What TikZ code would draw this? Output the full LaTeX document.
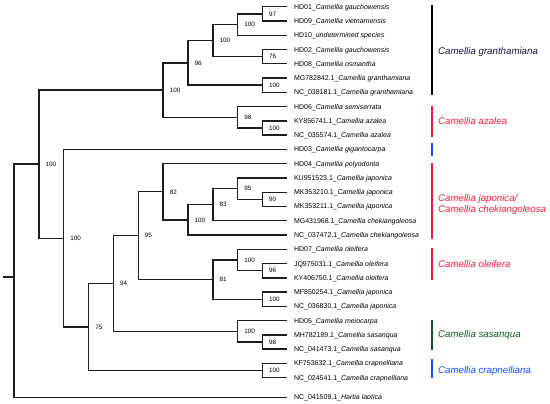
\documentclass[tikz,border=0pt]{standalone}
\usepackage{fontspec}
\setmainfont{Liberation Sans}
\usetikzlibrary{calc}
\definecolor{brc}{HTML}{1E1E1E}
\definecolor{grc}{HTML}{1C1240}
\definecolor{rdc}{HTML}{F41E3C}
\definecolor{gnc}{HTML}{0B5A1E}
\definecolor{blc}{HTML}{1450FF}
\newcommand\mkclade[5]{%
  \path ($(#3)!0.5!(#4)$) coordinate (#1-m);
  \coordinate (#1) at (#2 |- #1-m);
  \draw[br] (#3) -| (#1) |- (#4);
  \node[bs] (#1-lab) at (#1) {#5};
}
\begin{document}
\begin{tikzpicture}[x=1pt,y=-1pt,
  br/.style={draw=brc,line width=1.4pt,line join=miter},
  leaf/.style={anchor=base west,inner sep=0pt,xshift=6.5pt,yshift=-2.5pt,font=\fontsize{7}{8}\selectfont},
  bs/.style={anchor=base west,inner sep=0pt,xshift=6.5pt,yshift=-2.3pt,font=\fontsize{6.3}{7}\selectfont},
  grp/.style={anchor=base west,inner sep=0pt,yshift=-3.5pt,font=\fontsize{9.7}{11}\selectfont\itshape},
  gbar/.style={line width=1.8pt}]
\useasboundingbox (0,0) rectangle (550,404);
% columns
\foreach \k in {0,...,11} {\coordinate (k\k) at ({14+24.85*\k},0);}
% leaf tips
\foreach \i in {1,...,27} {\coordinate (t\i) at (287.35,{6.7+(\i-1)*14.27});}
\coordinate (t28) at (287.35,397.3);
% leaf labels
\node[leaf] (L1) at (t1) {HD01\_\textit{Camellia gauchowensis}};
\node[leaf] (L2) at (t2) {HD09\_\textit{Camellia vietnamensis}};
\node[leaf] (L3) at (t3) {HD10\_\textit{undetermined species}};
\node[leaf] (L4) at (t4) {HD02\_\textit{Camellia gauchowensis}};
\node[leaf] (L5) at (t5) {HD08\_\textit{Camellia osmantha}};
\node[leaf] (L6) at (t6) {MG782842.1\_\textit{Camellia granthamiana}};
\node[leaf] (L7) at (t7) {NC\_038181.1\_\textit{Camellia granthamiana}};
\node[leaf] (L8) at (t8) {HD06\_\textit{Camellia semiserrata}};
\node[leaf] (L9) at (t9) {KY856741.1\_\textit{Camellia azalea}};
\node[leaf] (L10) at (t10) {NC\_035574.1\_\textit{Camellia azalea}};
\node[leaf] (L11) at (t11) {HD03\_\textit{Camellia gigantocarpa}};
\node[leaf] (L12) at (t12) {HD04\_\textit{Camellia polyodonta}};
\node[leaf] (L13) at (t13) {KU951523.1\_\textit{Camellia japonica}};
\node[leaf] (L14) at (t14) {MK353210.1\_\textit{Camellia japonica}};
\node[leaf] (L15) at (t15) {MK353211.1\_\textit{Camellia japonica}};
\node[leaf] (L16) at (t16) {MG431968.1\_\textit{Camellia chekiangoleosa}};
\node[leaf] (L17) at (t17) {NC\_037472.1\_\textit{Camellia chekiangoleosa}};
\node[leaf] (L18) at (t18) {HD07\_\textit{Camellia oleifera}};
\node[leaf] (L19) at (t19) {JQ975031.1\_\textit{Camellia oleifera}};
\node[leaf] (L20) at (t20) {KY406750.1\_\textit{Camellia oleifera}};
\node[leaf] (L21) at (t21) {MF850254.1\_\textit{Camellia japonica}};
\node[leaf] (L22) at (t22) {NC\_036830.1\_\textit{Camellia japonica}};
\node[leaf] (L23) at (t23) {HD05\_\textit{Camellia meiocarpa}};
\node[leaf] (L24) at (t24) {MH782189.1\_\textit{Camellia sasanqua}};
\node[leaf] (L25) at (t25) {NC\_041473.1\_\textit{Camellia sasanqua}};
\node[leaf] (L26) at (t26) {KF753632.1\_\textit{Camellia crapnelliana}};
\node[leaf] (L27) at (t27) {NC\_024541.1\_\textit{Camellia crapnelliana}};
\node[leaf] (L28) at (t28) {NC\_041509.1\_\textit{Hartia laotica}};
% clades
\mkclade{n97}{k10}{t1}{t2}{97}
\mkclade{n100a}{k9}{n97}{t3}{100}
\mkclade{n76}{k10}{t4}{t5}{76}
\mkclade{n100b}{k8}{n100a}{n76}{100}
\mkclade{n100c}{k10}{t6}{t7}{100}
\mkclade{n96}{k7}{n100b}{n100c}{96}
\mkclade{az100}{k10}{t9}{t10}{100}
\mkclade{az98}{k9}{t8}{az100}{98}
\mkclade{C100}{k6}{n96}{az98}{100}
\mkclade{ja90}{k10}{t14}{t15}{90}
\mkclade{ja95}{k9}{t13}{ja90}{95}
\mkclade{ja83}{k8}{ja95}{t16}{83}
\mkclade{ja100}{k7}{ja83}{t17}{100}
\mkclade{K82}{k6}{t12}{ja100}{82}
\mkclade{ol96}{k10}{t19}{t20}{96}
\mkclade{ol100}{k9}{t18}{ol96}{100}
\mkclade{ol100b}{k10}{t21}{t22}{100}
\mkclade{ol81}{k8}{ol100}{ol100b}{81}
\mkclade{J95}{k5}{K82}{ol81}{95}
\mkclade{sa98}{k10}{t24}{t25}{98}
\mkclade{sa100}{k9}{t23}{sa98}{100}
\mkclade{I94}{k4}{J95}{sa100}{94}
\mkclade{cr100}{k10}{t26}{t27}{100}
\mkclade{H75}{k3}{I94}{cr100}{75}
\mkclade{D100}{k2}{t11}{H75}{100}
\mkclade{B100}{k1}{C100}{D100}{100}
% root
\coordinate (root) at (14,277);
\coordinate (stub) at (3,277);
\draw[br] (B100) -| (root) |- (t28);
\draw[br] (stub) -- (root);
% group bars
\draw[gbar,black] (431.7,5.3) -- (431.7,95);
\draw[gbar,rdc] (431.7,106) -- (431.7,137);
\draw[gbar,blc] (431.7,143) -- (431.7,156);
\draw[gbar,rdc] (431.7,163) -- (431.7,239);
\draw[gbar,rdc] (431.7,248) -- (431.7,280);
\draw[gbar,gnc] (431.7,320) -- (431.7,350);
\draw[gbar,blc] (431.7,359) -- (431.7,378);
% group labels
\node[grp,text=grc] (G1) at (438,50.7) {Camellia granthamiana};
\node[grp,text=rdc] (G2) at (438,120.7) {Camellia azalea};
\node[grp,text=rdc] (G3a) at (438,197.7) {Camellia japonica/};
\node[grp,text=rdc] (G3b) at (438,209.3) {Camellia chekiangoleosa};
\node[grp,text=rdc] (G4) at (438,263.7) {Camellia oleifera};
\node[grp,text=gnc] (G5) at (438,334) {Camellia sasanqua};
\node[grp,text=blc] (G6) at (438,370) {Camellia crapnelliana};
\end{tikzpicture}
\end{document}
